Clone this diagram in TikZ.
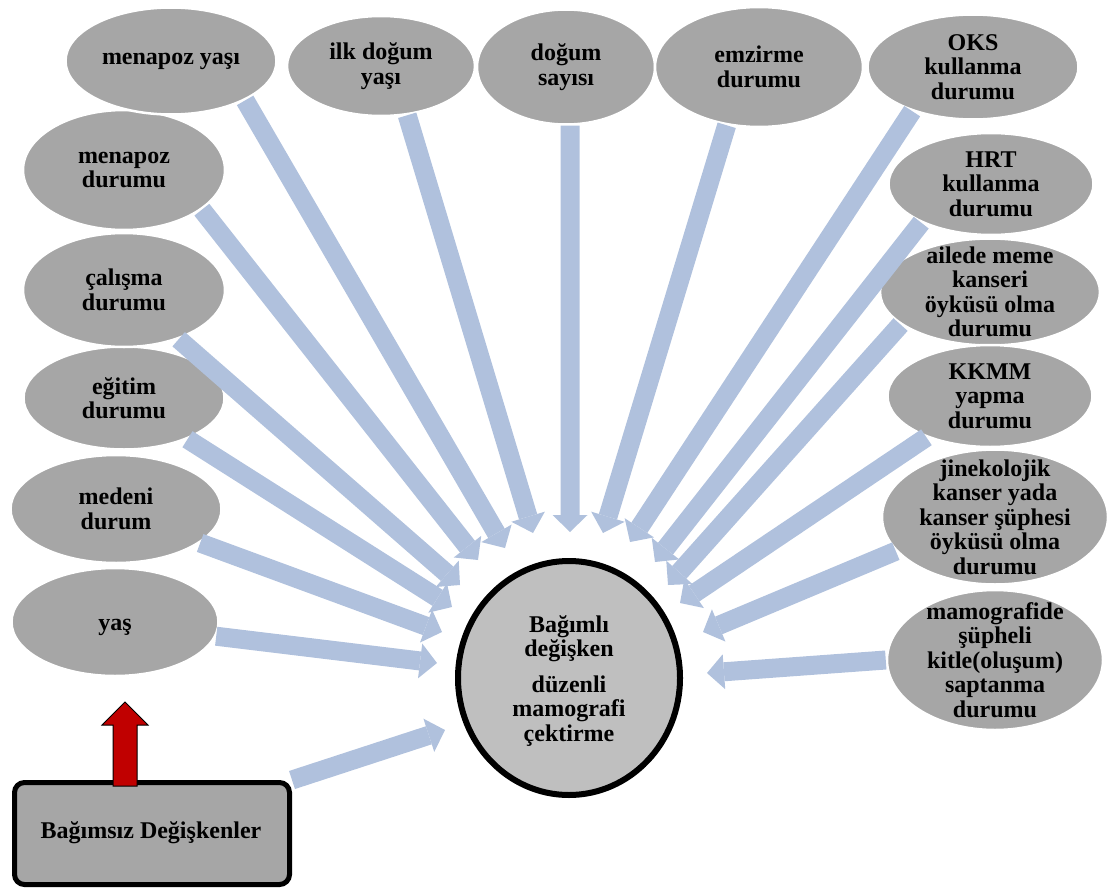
\documentclass[tikz,border=0pt]{standalone}
\usepackage{fontspec}
\setmainfont{Liberation Serif}
\usetikzlibrary{arrows.meta,shapes.geometric}
\definecolor{ellgray}{RGB}{166,166,166}
\definecolor{circgray}{RGB}{191,191,191}
\definecolor{arrblue}{RGB}{176,193,221}
\definecolor{darkred}{RGB}{192,0,0}
\newcommand\ellnode[6]{%
  \node[ell, minimum width=#4pt, minimum height=#5pt] (#1) at (#2,#3) {};
  \node[lbl] (#1-t) at (#1) {#6};}
\begin{document}
\begin{tikzpicture}[x=1pt,y=-1pt,
  ell/.style={ellipse, fill=ellgray, draw=white, line width=2.5pt, inner sep=0pt},
  lbl/.style={font=\fontsize{24}{24.5}\selectfont\bfseries, align=center, inner sep=0pt},
  flow/.style={draw=arrblue, line width=19pt, line cap=butt,
    -{Triangle[width=35pt,length=17pt,line width=0pt]}},
]
\useasboundingbox (0,0) rectangle (1116,891);

% left column (lower ones first so upper ones lie on top)
\node[ell, minimum width=207pt, minimum height=108pt] (yas) at (115,622) {};
\node[lbl] (yas-t) at (115,627) {yaş};
\ellnode{med}{116}{509}{211}{108}{medeni\\durum}
\ellnode{egit}{124}{398}{201}{103}{eğitim\\durumu}
\ellnode{cal}{124}{290}{202}{114}{çalışma\\durumu}
\ellnode{mendur}{124}{170}{202}{120}{menapoz\\durumu}
% top row
\ellnode{menyas}{171}{61}{211}{107}{menapoz yaşı}
\ellnode{ilk}{381}{66}{188}{100}{ilk doğum\\yaşı}
\ellnode{dogum}{566}{67}{178}{115}{doğum\\sayısı}
\ellnode{emz}{759}{67}{208}{120}{emzirme\\durumu}
\ellnode{oks}{973}{67}{211}{105}{OKS\\kullanma\\durumu}
% right column
\ellnode{hrt}{991}{184}{205}{102}{HRT\\kullanma\\durumu}
\ellnode{aile}{990}{292}{220}{107}{ailede meme\\kanseri\\öyküsü olma\\durumu}
\ellnode{kkmm}{990}{396}{205}{102}{KKMM\\yapma\\durumu}
\ellnode{jin}{995}{517}{226}{135}{jinekolojik\\kanser yada\\kanser şüphesi\\öyküsü olma\\durumu}
\ellnode{mam}{995}{660}{216}{140}{mamografide\\şüpheli\\kitle(oluşum)\\saptanma\\durumu}

% dependent variable
\node[ellipse, fill=circgray, draw=black, line width=6pt, inner sep=0pt,
      minimum width=222pt, minimum height=234pt] (dv) at (569,678) {};
\node[lbl] (dv-t) at (569,681) {Bağımlı\\değişken\\[11pt]düzenli\\mamografi\\çektirme};

% independent variables box
\node[rectangle, rounded corners=10pt, fill=ellgray, draw=black, line width=5pt,
      minimum width=275pt, minimum height=102pt, inner sep=0pt] (box) at (152,833.5) {};
\node[lbl] (box-t) at (151,833) {Bağımsız Değişkenler};

% red block arrow
\draw[fill=darkred, draw=black, line width=1pt]
  (113,786) -- (113,725) -- (102,725) -- (125,702) -- (148,725) -- (137,725) -- (137,786) -- cycle;

% arrow tips
\coordinate (t-menyas) at (505,548);
\coordinate (t-ilk) at (533,533);
\coordinate (t-dogum) at (570,532);
\coordinate (t-emz) at (603,533);
\coordinate (t-oks) at (630,542);
\coordinate (t-hrt) at (655,562);
\coordinate (t-aile) at (668,585);
\coordinate (t-kkmm) at (680,603);
\coordinate (t-jin) at (703,632);
\coordinate (t-mam) at (707,673);
\coordinate (t-mendur) at (478,560);
\coordinate (t-cal) at (460,585);
\coordinate (t-egit) at (452,607);
\coordinate (t-med) at (442,632);
\coordinate (t-yas) at (437,663);
\coordinate (t-box) at (445,730);

\draw[flow] (menyas.-28) -- (t-menyas);
\draw[flow] (ilk.-62) -- (t-ilk);
\draw[flow] (dogum.-86) -- (t-dogum);
\draw[flow] (emz.-119) -- (t-emz);
\draw[flow] (oks.-144) -- (t-oks);
\draw[flow] (hrt.209) -- (t-hrt);
\draw[flow] (aile.200) -- (t-aile);
\draw[flow] (kkmm.213) -- (t-kkmm);
\draw[flow] (jin.199) -- (t-jin);
\draw[flow] (mam.180) -- (t-mam);
\draw[flow] (mendur.-27) -- (t-mendur);
\draw[flow] (cal.-42) -- (t-cal);
\draw[flow] (egit.-33) -- (t-egit);
\draw[flow] (med.-22) -- (t-med);
\draw[flow] (yas.-8) -- (t-yas);
\draw[flow] (box.north east) -- (t-box);
\end{tikzpicture}
\end{document}
